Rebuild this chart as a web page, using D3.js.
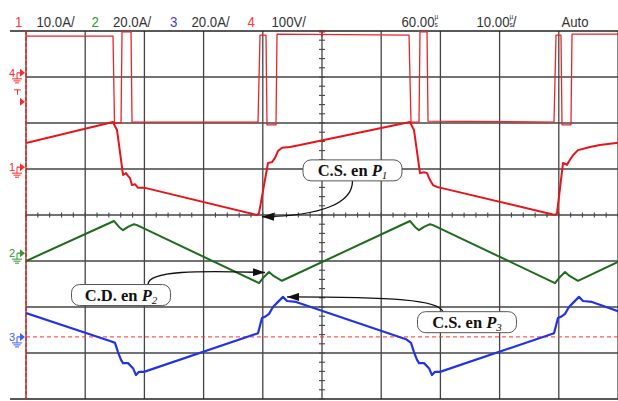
<!DOCTYPE html>
<html><head><meta charset="utf-8">
<script src="https://cdn.jsdelivr.net/npm/d3@7"></script>
<style>html,body{margin:0;padding:0;background:#fff;}svg{display:block;}</style>
</head><body>
<script>
// ---- Data (time in µs, amplitude in screen divisions from centre) ----
const ch4T = [0,14.7,14.95,16.05,16.22,17.74,17.91,39.19,39.53,40.54,40.71,42.23,42.4,64.7,65.03,66.39,66.55,67.74,67.91,89.19,89.53,90.37,90.54,92.06,92.23,100];
const ch4V = [3.89,3.89,2.0,2.0,3.98,3.98,2.02,2.02,3.91,3.91,1.96,1.96,3.93,3.91,2.02,2.02,3.98,3.98,2.04,2.02,3.91,3.91,1.96,1.96,3.93,3.93];

const ch1T = [0,14.7,15.03,15.37,16.39,16.89,17.23,17.57,17.91,18.41,18.92,20.1,39.02,39.36,40.88,41.55,42.06,42.57,43.24,44.59,46.28,64.86,65.2,65.54,66.55,67.23,67.74,68.24,68.75,69.43,70.1,89.36,89.7,90.71,91.39,91.89,92.4,93.24,95.27,96.96,100];
const ch1V = [1.565,2.02,1.93,1.85,0.87,0.91,0.85,0.8,0.65,0.67,0.59,0.59,0.0,0.04,1.13,1.15,1.24,1.39,1.46,1.48,1.52,2.02,1.93,1.85,0.91,0.93,0.91,0.76,0.65,0.61,0.59,0.0,0.04,1.13,1.09,1.2,1.3,1.41,1.48,1.52,1.57];

const ch2T = [0,14.86,15.71,16.39,17.23,18.24,18.75,39.36,40.03,41.05,41.89,43.24,64.86,65.71,66.39,67.23,68.24,68.75,89.36,90.03,91.05,91.89,93.24,100];
const ch2V = [-1.0,-0.13,-0.26,-0.33,-0.26,-0.2,-0.22,-1.48,-1.37,-1.24,-1.33,-1.43,-0.13,-0.26,-0.33,-0.26,-0.2,-0.22,-1.48,-1.37,-1.24,-1.33,-1.43,-1.02];

const ch3T = [0,14.19,15.03,15.54,16.05,16.39,17.23,18.07,18.58,19.09,19.93,39.19,39.86,40.54,41.05,41.72,42.4,43.41,44.09,45.61,64.19,65.03,65.54,66.05,66.39,67.23,68.07,68.58,69.09,69.93,89.19,89.86,90.54,91.05,91.72,92.4,93.41,94.09,95.61,100];
const ch3V = [-2.13,-2.74,-2.78,-2.98,-3.15,-3.22,-3.22,-3.33,-3.48,-3.41,-3.41,-2.57,-2.24,-2.2,-2.15,-2.0,-1.91,-1.78,-1.87,-1.89,-2.7,-2.78,-2.98,-3.15,-3.22,-3.22,-3.33,-3.48,-3.41,-3.41,-2.57,-2.24,-2.2,-2.15,-2.0,-1.91,-1.78,-1.87,-1.89,-2.09];

// channel markers (ground reference levels, divisions)
const markerCh = ["4","1","2","3"];
const markerLevel = [3.09, 1.04, -0.83, -2.65];
const triggerLevel = -2.65;
const trigMarkLevel = 2.46;

// header labels
const headerTexts = ["1","10.0A/","2","20.0A/","3","20.0A/","4","100V/","60.00","10.00","Auto"];

// annotations: box centre (t, div), arrow tip (t, div)
const annLabel = ["C.S. en ","C.D. en ","C.S. en "];
const annSub = ["1","2","3"];
const annBox = [[55.15,0.97],[16.05,-1.74],[74.49,-2.33]];
const annTip = [[39.86,-0.04],[40.37,-1.25],[44.09,-1.78]];

// ---- Layout ----
const W = 618, H = 401;
const svg = d3.select("body").append("svg").attr("width",W).attr("height",H);
const x = d3.scaleLinear().domain([0,100]).range([26,618]);
const y = d3.scaleLinear().domain([-4,4]).range([399,31]);

const colR = "#e8141a", colG = "#1d6b1d", colB = "#2233e6", gridC = "#444";

// grid
const g = svg.append("g");
g.selectAll(".vg").data(d3.range(10,101,10)).join("line")
  .attr("x1",d=>x(d)).attr("x2",d=>x(d)).attr("y1",y(4)).attr("y2",y(-4))
  .attr("stroke",gridC).attr("stroke-width",1.3);
g.selectAll(".hg").data(d3.range(-3,4,1)).join("line")
  .attr("x1",x(0)).attr("x2",x(100)).attr("y1",d=>y(d)).attr("y2",d=>y(d))
  .attr("stroke",gridC).attr("stroke-width",1.3);
[4,-4].forEach(v=>g.append("line").attr("x1",10).attr("x2",W).attr("y1",y(v)).attr("y2",y(v))
  .attr("stroke","#222").attr("stroke-width",1.4));
g.selectAll(".mtx").data(d3.range(0,100.01,2)).join("line")
  .attr("x1",d=>x(d)).attr("x2",d=>x(d)).attr("y1",y(0)-2.5).attr("y2",y(0)+2.5)
  .attr("stroke",gridC).attr("stroke-width",1.1);
g.selectAll(".mty").data(d3.range(-4,4.01,0.2)).join("line")
  .attr("x1",x(50)-3).attr("x2",x(50)+3).attr("y1",d=>y(d)).attr("y2",d=>y(d))
  .attr("stroke",gridC).attr("stroke-width",1.1);
g.append("line").attr("x1",x(0)).attr("x2",x(0)).attr("y1",y(4)).attr("y2",y(-4)).attr("stroke","#333").attr("stroke-width",1.2);
g.append("line").attr("x1",x(0)).attr("x2",x(0)).attr("y1",y(4)).attr("y2",y(-4))
  .attr("stroke","#ff2020").attr("stroke-width",1.6).attr("stroke-dasharray","4,2");
g.append("line").attr("x1",x(0)).attr("x2",x(100)).attr("y1",y(triggerLevel)).attr("y2",y(triggerLevel))
  .attr("stroke","#ff3030").attr("stroke-width",1).attr("stroke-dasharray","4,3");

// header (condensed sans via horizontal scale)
const hx = [15,36.5,91.5,113,170,191.5,247.5,271.5,401.5,476.5,561.5];
const hc = ["#ff3a3a","#333","#2f9a2f","#333","#3b3bdd","#333","#ff3a3a","#333","#333","#333","#333"];
const ht = svg.selectAll(".ht").data(headerTexts).join("text")
  .attr("transform",(d,i)=>`translate(${hx[i]},26.5) scale(0.88,1)`)
  .attr("font-family","Liberation Sans, Arial, sans-serif").attr("font-size",15)
  .attr("fill",(d,i)=>hc[i]).text(d=>d);
// stacked µ/s units appended to the time texts
ht.filter((d,i)=>i===8||i===9).each(function(d,i){
  const t = d3.select(this);
  t.append("tspan").attr("font-size",7.5).attr("dy",-7.5).text("µ");
  t.append("tspan").attr("font-size",7.5).attr("dx",-4.3).attr("dy",7.5).text("s");
  if(i===1) t.append("tspan").attr("font-size",15).text("/");
});
svg.append("path").attr("d",`M${x(50)-3},${y(4)+1}h6M${x(50)},${y(4)+1}v5`).attr("stroke",colR).attr("stroke-width",1.2).attr("fill","none");

// traces
svg.append("clipPath").attr("id","pc").append("rect")
  .attr("x",x(0)).attr("y",y(4)).attr("width",x(100)-x(0)).attr("height",y(-4)-y(4));
const line = d3.line().x(d=>x(d[0])).y(d=>y(d[1]));
const tr = svg.append("g").attr("clip-path","url(#pc)");
const series = [
  {t:ch4T,v:ch4V,c:"#e8262a",w:1.3},
  {t:ch1T,v:ch1V,c:colR,w:2},
  {t:ch2T,v:ch2V,c:colG,w:2},
  {t:ch3T,v:ch3V,c:colB,w:2.2}
];
series.forEach(s=>{
  tr.append("path").datum(d3.zip(s.t,s.v)).attr("d",line)
    .attr("fill","none").attr("stroke",s.c).attr("stroke-width",s.w).attr("stroke-linejoin","round");
});

// channel markers at left
const mcol = {"4":"#ff2a2a","1":"#ff2a2a","2":"#2f9a2f","3":"#3b5bff"};
markerCh.forEach((c,i)=>{
  const yy = y(markerLevel[i]);
  const col = mcol[c];
  const mg = svg.append("g");
  mg.append("text").attr("x",9).attr("y",yy+4).attr("font-family","Liberation Sans, Arial").attr("font-size",11).attr("fill",col).text(c);
  mg.append("path").attr("d",`M17,${yy}h4`).attr("stroke",col).attr("stroke-width",1.2);
  mg.append("path").attr("d",`M20,${yy-4}L25,${yy}L20,${yy+4}Z`).attr("fill",col);
  mg.append("path").attr("d",`M17,${yy}v6M12,${yy+6}h10M13.5,${yy+8}h7M15,${yy+10}h4`).attr("stroke",col).attr("stroke-width",1).attr("fill","none");
});
{
  const yy = y(trigMarkLevel);
  svg.append("path").attr("d",`M20,${yy-4}L25,${yy}L20,${yy+4}Z`).attr("fill","#ff2a2a");
  svg.append("path").attr("d",`M14,${yy-12}h7M17.5,${yy-12}v5`).attr("stroke","#ff2a2a").attr("stroke-width",1);
}

// annotations
const defs = svg.append("defs");
defs.append("marker").attr("id","ah").attr("viewBox","0 0 12 8").attr("refX",12).attr("refY",4)
  .attr("markerWidth",12).attr("markerHeight",8).attr("markerUnits","userSpaceOnUse").attr("orient","auto")
  .append("path").attr("d","M0,0L12,4L0,8Z").attr("fill","#111");

const ag = svg.append("g");
const boxW = 99, boxH = 21;
annLabel.forEach((lab,i)=>{
  const bx = x(annBox[i][0]), by = y(annBox[i][1]);
  const tx = x(annTip[i][0]), ty = y(annTip[i][1]);
  let d;
  if(i===0){
    const sx = bx, sy = by+boxH/2;
    d = `M${sx},${sy} C${sx},${sy+22} ${sx-30},${ty-1} ${tx},${ty}`;
  } else if(i===1){
    const sx = bx+27, sy = by-boxH/2;
    d = `M${sx},${sy} C${sx},${sy-14} ${sx+50},${ty-2} ${tx},${ty}`;
  } else {
    const sx = bx-24, sy = by-boxH/2;
    d = `M${sx},${sy} C${sx-4},${sy-12} ${sx-50},${ty} ${tx},${ty}`;
  }
  ag.append("path").attr("d",d).attr("fill","none").attr("stroke","#111").attr("stroke-width",1.3).attr("marker-end","url(#ah)");
  ag.append("rect").attr("x",bx-boxW/2).attr("y",by-boxH/2).attr("width",boxW).attr("height",boxH)
    .attr("rx",8).attr("fill","#fff").attr("stroke","#555").attr("stroke-width",1);
  const t = ag.append("text").attr("x",bx).attr("y",by+5.5).attr("text-anchor","middle")
    .attr("font-family","Liberation Serif, Times New Roman, serif").attr("font-size",16.5).attr("font-weight","bold").attr("fill","#111");
  t.append("tspan").text(lab);
  t.append("tspan").attr("font-style","italic").text("P");
  t.append("tspan").attr("font-style","italic").attr("font-weight","normal").attr("font-size",11).attr("dy",3).text(annSub[i]);
});
</script>
</body></html>
